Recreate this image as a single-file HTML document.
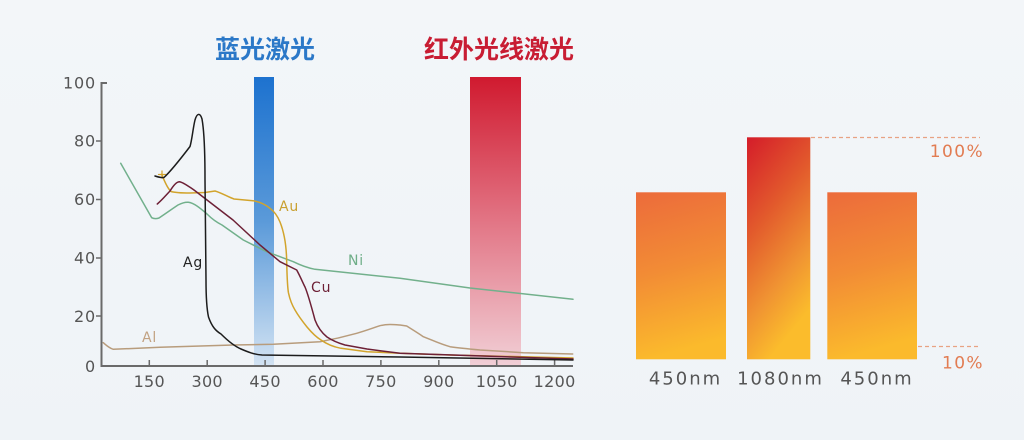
<!DOCTYPE html>
<html><head><meta charset="utf-8"><style>
html,body{margin:0;padding:0;background:#f1f4f8;}
svg{display:block;}
</style></head><body>
<svg width="1024" height="440" viewBox="0 0 1024 440" xmlns="http://www.w3.org/2000/svg">
<defs>
<linearGradient id="bg" x1="0" y1="0" x2="0" y2="1"><stop offset="0" stop-color="#f3f6f9"/><stop offset="1" stop-color="#eff3f7"/></linearGradient>
<linearGradient id="blue" x1="0" y1="0" x2="0" y2="1"><stop offset="0" stop-color="#1d72cf"/><stop offset="0.5" stop-color="#5b9ad9"/><stop offset="1" stop-color="#d3e3f3"/></linearGradient>
<linearGradient id="red" x1="0" y1="0" x2="0" y2="1"><stop offset="0" stop-color="#d01a2f"/><stop offset="0.5" stop-color="#e27585"/><stop offset="1" stop-color="#f1cfd6"/></linearGradient>
<linearGradient id="bo" x1="0" y1="0" x2="0.15" y2="1"><stop offset="0" stop-color="#ec6b3b"/><stop offset="0.5" stop-color="#f28c35"/><stop offset="1" stop-color="#fbba2c"/></linearGradient>
<linearGradient id="br" x1="0" y1="0" x2="0.35" y2="1"><stop offset="0" stop-color="#d41c2a"/><stop offset="0.4" stop-color="#e2592c"/><stop offset="0.75" stop-color="#f09432"/><stop offset="1" stop-color="#fbbc2c"/></linearGradient>
</defs>
<rect width="1024" height="440" fill="url(#bg)"/>

<!-- titles -->
<text x="265" y="58" text-anchor="middle" font-family="'Liberation Sans','Noto Sans CJK SC',sans-serif" font-size="25" font-weight="bold" fill="#2b78c8">蓝光激光</text>
<text x="499" y="58" text-anchor="middle" font-family="'Liberation Sans','Noto Sans CJK SC',sans-serif" font-size="25" font-weight="bold" fill="#c81d33">红外光线激光</text>

<!-- bands -->
<rect x="254" y="77" width="20" height="289" fill="url(#blue)"/>
<rect x="470" y="77" width="51" height="289" fill="url(#red)"/>

<!-- axes -->
<g stroke="#6a6a6a" stroke-width="2" fill="none">
<path d="M101.5,82 L101.5,366 L573,366"/>
<path d="M101.5,83 L107,83"/>
</g>
<g stroke="#6a6a6a" stroke-width="1.5">
<path d="M96,141 L101,141 M96,199.5 L101,199.5 M96,258 L101,258 M96,316 L101,316"/>
<path d="M149.3,360 V366 M207.2,360 V366 M265.1,360 V366 M323,360 V366 M380.9,360 V366 M438.8,360 V366 M496.7,360 V366 M554.6,360 V366"/>
</g>
<g font-family="'DejaVu Sans','Liberation Sans',sans-serif" font-size="16" fill="#555" letter-spacing="0.8" text-anchor="end">
<text x="96" y="88.5">100</text>
<text x="96" y="146.5">80</text>
<text x="96" y="205">60</text>
<text x="96" y="263.5">40</text>
<text x="96" y="322">20</text>
<text x="96" y="372">0</text>
</g>
<g font-family="'DejaVu Sans','Liberation Sans',sans-serif" font-size="16" fill="#555" letter-spacing="0.3" text-anchor="middle">
<text x="149.3" y="387">150</text>
<text x="207.2" y="387">300</text>
<text x="265.1" y="387">450</text>
<text x="323" y="387">600</text>
<text x="380.9" y="387">750</text>
<text x="438.8" y="387">900</text>
<text x="496.7" y="387">1050</text>
<text x="554.6" y="387">1200</text>
</g>

<!-- curves -->
<g fill="none" stroke-width="1.5" stroke-linejoin="round" stroke-linecap="round">
<path stroke="#b89c7c" d="M103.3,342.7 C106,345 109,348 113.3,349.3 L160,347.3 L233.3,345 L273.3,344.3 L320,341.7 C335,339 347,336 356.7,333.3 C365,331 373,328 380,325.7 C387,324 393,324.5 400,325 L406.7,326 C413,330 418,333 423.3,336.7 C432,340 440,344 450,346.7 C460,348 470,349 480,350 L523.3,352.7 L572.7,354"/>
<path stroke="#72b08c" d="M120.7,163.3 L151.7,217.7 C154,219 156,219 159,218 C165,214 172,209 178,205 C182,203 185,202 188.3,202.3 C194,203 200,208 207,214 C212,219 216,222 222,225 L243.3,240 L266.7,251.7 L293.3,261.7 C300,265 308,268 315,269.3 L400,278.3 L470,288 L573,299.3"/>
<path stroke="#d2a42c" d="M161.7,174.3 C164,180 167,188 171,191.5 C176,193 183,193 190,193 L205,192.5 L215,191 C222,193 228,197 234,199 L253,200.7 C260,202 266,205 270,208.3 C275,212 278,217 280,222 C284,232 286,245 286.5,256 C287,270 287,285 288.5,293 C290,300 292,305 295,310 C299,317 303,322 307,327 C312,333 316,337 321,340 C328,345 334,347 341,348.3 L367,351.7 L400,353.3 L450,355 L573,358"/>
<path stroke="#d2a42c" d="M162,171 L162,178 M158.5,174.5 L165.5,174.5" stroke-width="1.2"/>
<path stroke="#6d2036" d="M157.3,204 C163,199 167,194 170,191 C173,186 176,182 179.3,181.7 C183,182 188,186 194,190 L233,220 L260,245 L280,261.7 L296.7,270 C300,276 303,283 305,287 C308,294 311,305 315,320 C318,328 322,333 327,337 C333,341 338,343 345,345 L367,349 L400,353.3 L573,359"/>
<path stroke="#1c1c1c" d="M155,176 C158,177 161,178 164,177.5 C172,170 182,157 190,146.5 C192,140 193,128 195,120 C197,113 200,112.5 202,119 C204,130 205,150 205,180 L206,280 C206,300 207,310 208.5,317 C212,327 216,331 221,334 C228,341 234,346 241,349 C248,352 254,354.5 262,355 L400,357 L573,360"/>
</g>
<g font-family="'DejaVu Sans','Liberation Sans',sans-serif" font-size="14" letter-spacing="0.8">
<text x="279" y="211" fill="#c9a030">Au</text>
<text x="183" y="267" fill="#222">Ag</text>
<text x="348" y="265" fill="#6fae88">Ni</text>
<text x="311" y="292" fill="#6d2036">Cu</text>
<text x="142" y="342" fill="#c2a283">Al</text>
</g>

<!-- right panel bars -->
<rect x="636" y="192.3" width="90" height="167" fill="url(#bo)"/>
<rect x="747" y="137.3" width="63.3" height="222" fill="url(#br)"/>
<rect x="827.3" y="192.3" width="89.7" height="167" fill="url(#bo)"/>
<g stroke="#e8a283" stroke-width="1.2" stroke-dasharray="4,3">
<path d="M811,137.5 L980,137.5"/>
<path d="M918,346.5 L980,346.5"/>
</g>
<g font-family="'DejaVu Sans','Liberation Sans',sans-serif" font-size="17" fill="#e27c52" letter-spacing="1.4" text-anchor="end">
<text x="984" y="157">100%</text>
<text x="984" y="368.5">10%</text>
</g>
<g font-family="'DejaVu Sans','Liberation Sans',sans-serif" font-size="18" fill="#555" letter-spacing="2" text-anchor="middle">
<text x="685.5" y="384.5">450nm</text>
<text x="780.5" y="384.5">1080nm</text>
<text x="877" y="384.5">450nm</text>
</g>
</svg>
</body></html>
